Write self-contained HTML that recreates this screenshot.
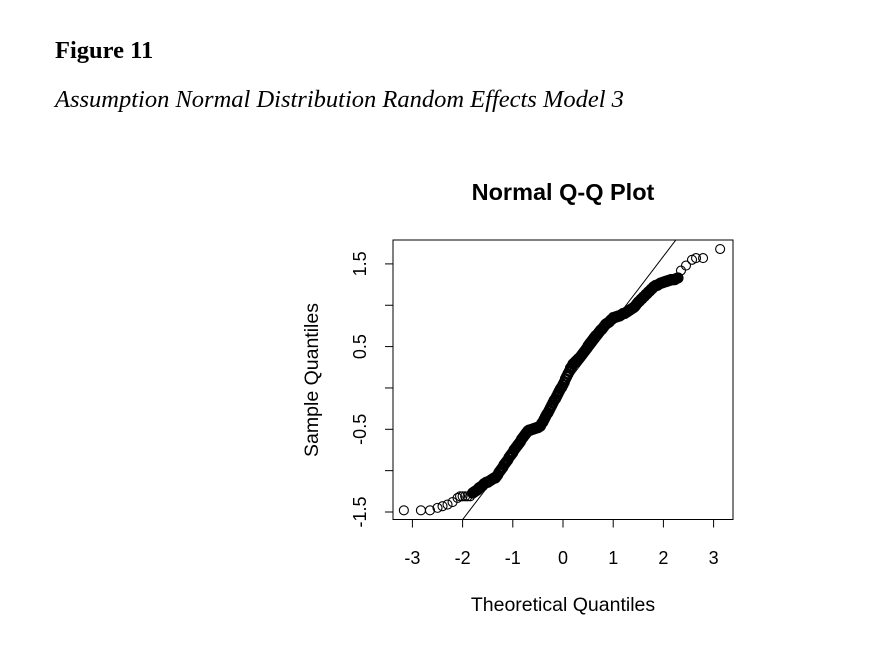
<!DOCTYPE html>
<html><head><meta charset="utf-8">
<style>
html,body{margin:0;padding:0;background:#fff;}
svg{display:block;}
</style></head>
<body>
<svg id="chart" width="884" height="672" viewBox="0 0 884 672" xmlns="http://www.w3.org/2000/svg">
  <text x="55" y="58" font-family="Liberation Serif, serif" font-weight="bold" font-size="24.5">Figure 11</text>
  <text x="55" y="107" font-family="Liberation Serif, serif" font-style="italic" font-size="24.5">Assumption Normal Distribution Random Effects Model 3</text>
  <text x="563" y="200" text-anchor="middle" font-family="Liberation Sans, sans-serif" font-weight="bold" font-size="23.5">Normal Q-Q Plot</text>
  <rect x="393" y="240" width="340" height="279.5" fill="none" stroke="#000" stroke-width="1"/>
  <g id="xaxis"></g>
  <g id="yaxis"></g>
  <g id="marks"></g>
  <text x="563" y="611" text-anchor="middle" font-family="Liberation Sans, sans-serif" font-size="19.5">Theoretical Quantiles</text>
  <text transform="translate(318,380) rotate(-90)" text-anchor="middle" font-family="Liberation Sans, sans-serif" font-size="19.5">Sample Quantiles</text>
</svg>
<script>
const xTicks = [-3, -2, -1, 0, 1, 2, 3];
const xTickLabels = ["-3", "-2", "-1", "0", "1", "2", "3"];
const yTicks = [-1.5, -1, -0.5, 0, 0.5, 1, 1.5];
const yTickLabels = ["-1.5", "", "-0.5", "", "0.5", "", "1.5"];
const theoretical = [-3.17,-2.83,-2.65,-2.5,-2.4,-2.3,-2.2,-2.1,-2.05,-2.0,-1.95,-1.9,-1.85,
-1.800,-1.775,-1.750,-1.725,-1.700,-1.675,-1.650,-1.625,-1.600,-1.575,-1.550,-1.525,-1.500,-1.475,-1.450,-1.425,-1.400,-1.375,-1.350,-1.325,-1.300,-1.275,-1.250,-1.225,-1.200,-1.175,-1.150,-1.125,-1.100,-1.075,-1.050,-1.025,-1.000,-0.975,-0.950,-0.925,-0.900,-0.875,-0.850,-0.825,-0.800,-0.775,-0.750,-0.725,-0.700,-0.675,-0.650,-0.625,-0.600,-0.575,-0.550,-0.525,-0.500,-0.475,-0.450,-0.425,-0.400,-0.375,-0.350,-0.325,-0.300,-0.275,-0.250,-0.225,-0.200,-0.175,-0.150,-0.125,-0.100,-0.075,-0.050,-0.025,
0.000,0.025,0.050,0.075,0.100,0.125,0.150,0.175,0.200,0.225,0.250,0.275,0.300,0.325,0.350,0.375,0.400,0.425,0.450,0.475,0.500,0.525,0.550,0.575,0.600,0.625,0.650,0.675,0.700,0.725,0.750,0.775,0.800,0.825,0.850,0.875,0.900,0.925,0.950,0.975,1.000,1.025,1.050,1.075,1.100,1.125,1.150,1.175,1.200,1.225,1.250,1.275,1.300,1.325,1.350,1.375,1.400,1.425,1.450,1.475,1.500,1.525,1.550,1.575,1.600,1.625,1.650,1.675,1.700,1.725,1.750,1.775,1.800,1.825,1.850,1.875,1.900,1.925,1.950,1.975,2.000,2.025,2.050,2.075,2.100,2.125,2.150,2.175,2.200,2.225,2.250,
2.29,2.35,2.45,2.57,2.65,2.79,3.13];
const sample = [-1.48,-1.48,-1.48,-1.45,-1.43,-1.41,-1.38,-1.33,-1.31,-1.31,-1.31,-1.31,-1.31,
-1.27,-1.26,-1.25,-1.24,-1.23,-1.21,-1.20,-1.19,-1.18,-1.16,-1.15,-1.14,-1.14,-1.13,-1.12,-1.11,-1.10,-1.09,-1.09,-1.07,-1.05,-1.02,-1.00,-0.98,-0.96,-0.93,-0.91,-0.89,-0.87,-0.84,-0.82,-0.80,-0.78,-0.75,-0.73,-0.71,-0.69,-0.67,-0.65,-0.62,-0.60,-0.58,-0.56,-0.54,-0.52,-0.51,-0.51,-0.50,-0.50,-0.49,-0.49,-0.48,-0.48,-0.47,-0.46,-0.43,-0.41,-0.38,-0.35,-0.32,-0.30,-0.27,-0.24,-0.21,-0.18,-0.15,-0.13,-0.10,-0.07,-0.04,-0.01,0.01,
0.04,0.07,0.11,0.14,0.17,0.20,0.24,0.26,0.29,0.30,0.32,0.33,0.35,0.36,0.38,0.40,0.42,0.44,0.46,0.48,0.51,0.53,0.55,0.57,0.59,0.61,0.63,0.64,0.66,0.68,0.70,0.71,0.73,0.75,0.77,0.78,0.79,0.80,0.82,0.83,0.85,0.85,0.86,0.86,0.87,0.87,0.88,0.89,0.90,0.90,0.91,0.92,0.93,0.94,0.95,0.96,0.97,0.98,1.00,1.02,1.04,1.05,1.07,1.08,1.10,1.11,1.13,1.14,1.16,1.17,1.19,1.20,1.22,1.23,1.24,1.24,1.25,1.26,1.27,1.27,1.28,1.28,1.29,1.29,1.30,1.30,1.31,1.31,1.31,1.31,1.32,
1.33,1.42,1.48,1.55,1.57,1.57,1.68];
const lineIntercept = 0.0;
const lineSlope = 0.796;

const NS = "http://www.w3.org/2000/svg";
const X0 = 393, X1 = 733, Y0 = 240, Y1 = 519.5;
function sx(v){ return 563 + v * 50.2; }
function sy(v){ return 512 - (v + 1.5) * 82.7; }
function mk(tag, attrs, parent){
  const e = document.createElementNS(NS, tag);
  for (const k in attrs) e.setAttribute(k, attrs[k]);
  parent.appendChild(e);
  return e;
}
const xg = document.getElementById('xaxis');
const yg = document.getElementById('yaxis');
const mg = document.getElementById('marks');
const font = "Liberation Sans, sans-serif";

mk('line', {x1: sx(xTicks[0]), x2: sx(xTicks[xTicks.length-1]), y1: Y1, y2: Y1, stroke: '#000'}, xg);
xTicks.forEach((t, i) => {
  const tk = mk('line', {x1: sx(t), x2: sx(t), y1: Y1, y2: Y1 + 8, stroke: '#000'}, xg);
  
  
  const lb = mk('text', {x: sx(t), y: 564, 'text-anchor': 'middle', 'font-family': font, 'font-size': 18}, xg);
  lb.textContent = xTickLabels[i];
  
  
});
mk('line', {x1: X0, x2: X0, y1: sy(yTicks[0]), y2: sy(yTicks[yTicks.length-1]), stroke: '#000'}, yg);
yTicks.forEach((t, i) => {
  const tk = mk('line', {x1: X0 - 8, x2: X0, y1: sy(t), y2: sy(t), stroke: '#000'}, yg);
  
  
  if (yTickLabels[i]) {
    const lb = mk('text', {transform: `translate(366,${sy(t)}) rotate(-90)`, 'text-anchor': 'middle', 'font-family': font, 'font-size': 18}, yg);
    lb.textContent = yTickLabels[i];
    
    
  }
});

const defs = mk('defs', {}, mg);
const cp = mk('clipPath', {id: 'clip'}, defs);
mk('rect', {x: X0, y: Y0, width: X1 - X0, height: Y1 - Y0}, cp);
const xa = -4, xb = 4;
const ln = mk('line', {x1: sx(xa), y1: sy(lineIntercept + lineSlope * xa), x2: sx(xb), y2: sy(lineIntercept + lineSlope * xb), stroke: '#000', 'stroke-width': 1, 'clip-path': 'url(#clip)'}, mg);



theoretical.forEach((t, i) => {
  const c = mk('circle', {cx: sx(t), cy: sy(sample[i]), r: 4.5, fill: 'none', stroke: '#000', 'stroke-width': (Math.abs(t) < 2.3 && t > -1.85) ? 2.2 : 1.1}, mg);
  
  
});
</script>
</body></html>
